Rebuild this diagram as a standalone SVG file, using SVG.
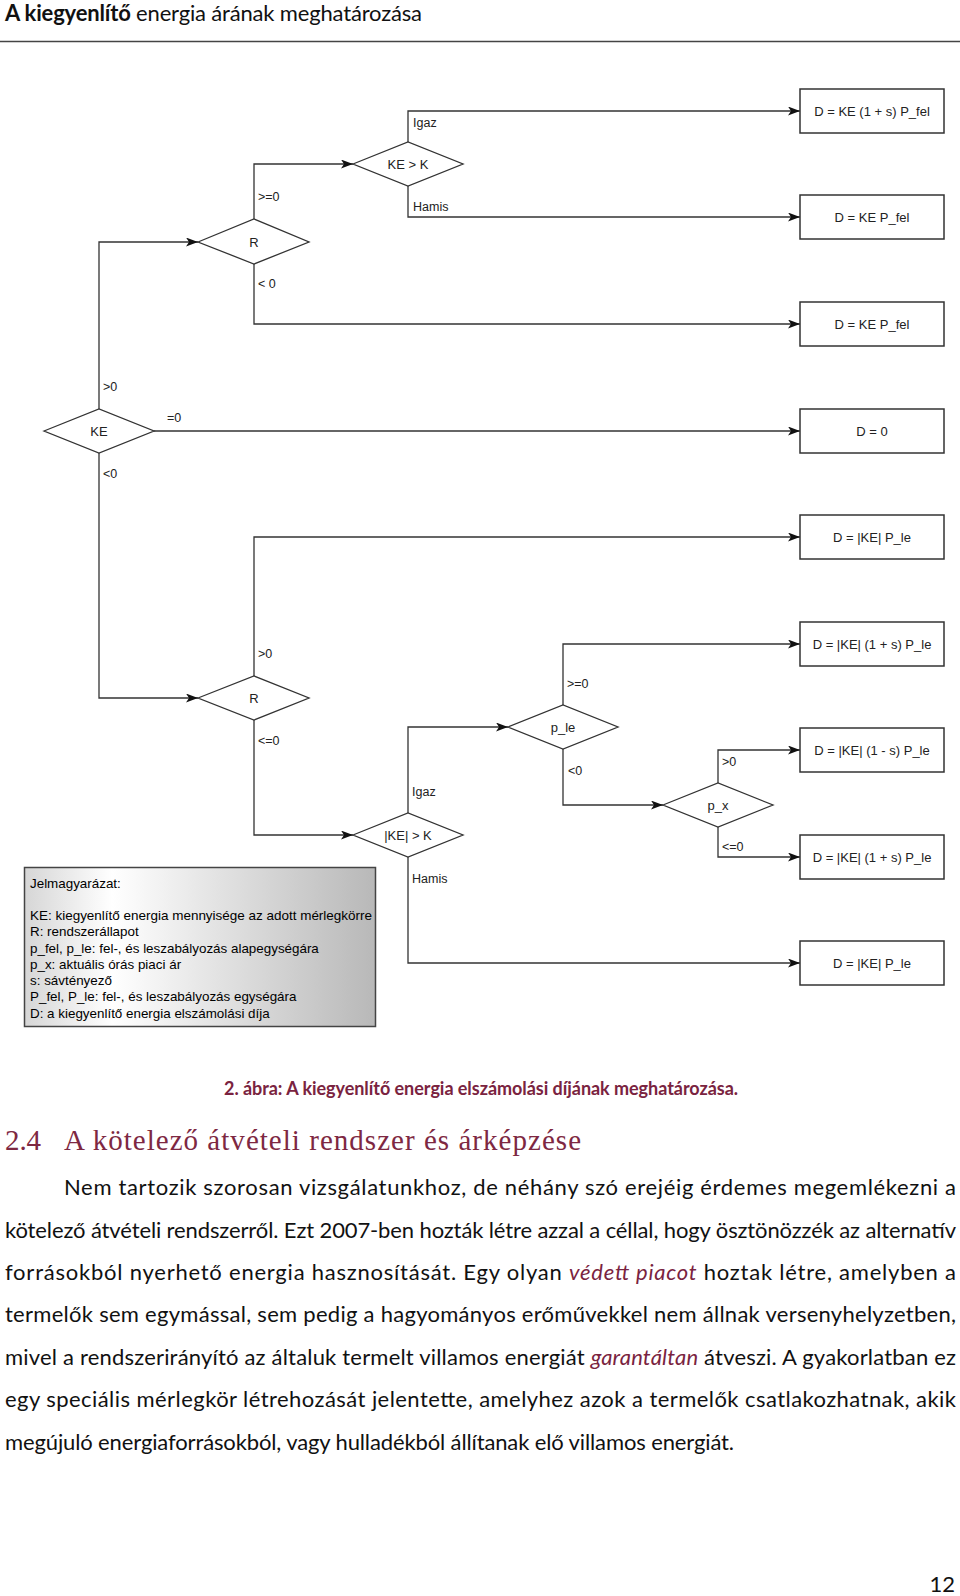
<svg xmlns="http://www.w3.org/2000/svg" width="960" height="1596" viewBox="0 0 960 1596">
<style>
.ln{fill:none;stroke:#333;stroke-width:1.3}
.dm{fill:#fff;stroke:#333;stroke-width:1.3}
.bx{fill:#fff;stroke:#333;stroke-width:1.5}
.t{font-family:"Liberation Sans",Arial,sans-serif;font-size:13px;fill:#222}
.c{text-anchor:middle;dominant-baseline:central}
.lb{font-family:"Liberation Sans",Arial,sans-serif;font-size:12.5px;fill:#222;dominant-baseline:central}
.lg{font-family:"Liberation Sans",Arial,sans-serif;font-size:13.4px;fill:#000}
.body{font-family:Lato,"Open Sans",sans-serif;font-size:22px;fill:#111}
.red{fill:#7a2340}
</style>
<defs>
<marker id="ar" viewBox="0 0 12 9" refX="12" refY="4.5" markerWidth="12" markerHeight="9" markerUnits="userSpaceOnUse" orient="auto">
<path d="M0,0 L12,4.5 L0,9 L3,4.5 Z" fill="#111"/>
</marker>
<linearGradient id="lgg" x1="0" y1="0" x2="1" y2="0">
<stop offset="0" stop-color="#d6d6d6"/>
<stop offset="0.25" stop-color="#ffffff"/>
<stop offset="1" stop-color="#b8b8b8"/>
</linearGradient>
</defs>

<g id="header">
<text x="5" y="21" style="font-family:Lato,'Open Sans',sans-serif;font-size:22px;fill:#111" textLength="417" lengthAdjust="spacing"><tspan font-weight="bold">A kiegyenlítő</tspan> energia árának meghatározása</text>
<line x1="0" y1="41.5" x2="960" y2="41.5" stroke="#444" stroke-width="1.6"/>
</g>

<g id="connectors">
<path class="ln" d="M99,409 V242 H198" marker-end="url(#ar)"/>
<path class="ln" d="M154,431 H800" marker-end="url(#ar)"/>
<path class="ln" d="M99,453 V698 H198" marker-end="url(#ar)"/>
<path class="ln" d="M254,219 V164 H353" marker-end="url(#ar)"/>
<path class="ln" d="M254,264 V324 H800" marker-end="url(#ar)"/>
<path class="ln" d="M408,142 V111 H800" marker-end="url(#ar)"/>
<path class="ln" d="M408,186 V217 H800" marker-end="url(#ar)"/>
<path class="ln" d="M254,676 V537 H800" marker-end="url(#ar)"/>
<path class="ln" d="M254,720 V835 H353" marker-end="url(#ar)"/>
<path class="ln" d="M408,813 V727 H508" marker-end="url(#ar)"/>
<path class="ln" d="M408,857 V963 H800" marker-end="url(#ar)"/>
<path class="ln" d="M563,705 V644 H800" marker-end="url(#ar)"/>
<path class="ln" d="M563,749 V805 H663" marker-end="url(#ar)"/>
<path class="ln" d="M718,783 V750 H800" marker-end="url(#ar)"/>
<path class="ln" d="M718,827 V857 H800" marker-end="url(#ar)"/>
<text class="lb" x="413" y="123">Igaz</text>
<text class="lb" x="413" y="207">Hamis</text>
<text class="lb" x="258" y="197">&gt;=0</text>
<text class="lb" x="258" y="284">&lt; 0</text>
<text class="lb" x="103" y="387">&gt;0</text>
<text class="lb" x="167" y="418">=0</text>
<text class="lb" x="103" y="474">&lt;0</text>
<text class="lb" x="258" y="654">&gt;0</text>
<text class="lb" x="258" y="741">&lt;=0</text>
<text class="lb" x="567" y="684">&gt;=0</text>
<text class="lb" x="568" y="771">&lt;0</text>
<text class="lb" x="412" y="792">Igaz</text>
<text class="lb" x="412" y="879">Hamis</text>
<text class="lb" x="722" y="762">&gt;0</text>
<text class="lb" x="722" y="847">&lt;=0</text>
</g>

<g id="d-ke"><polygon class="dm" points="44,431 99,409 154,431 99,453"/><text class="t c" x="99" y="431">KE</text></g>
<g id="d-r1"><polygon class="dm" points="198,242 254,219 309,242 254,264"/><text class="t c" x="254" y="242">R</text></g>
<g id="d-kek"><polygon class="dm" points="353,164 408,142 463,164 408,186"/><text class="t c" x="408" y="164">KE &gt; K</text></g>
<g id="d-r2"><polygon class="dm" points="198,698 254,676 309,698 254,720"/><text class="t c" x="254" y="698">R</text></g>
<g id="d-abskek"><polygon class="dm" points="353,835 408,813 463,835 408,857"/><text class="t c" x="408" y="835">|KE| &gt; K</text></g>
<g id="d-ple"><polygon class="dm" points="508,727 563,705 618,727 563,749"/><text class="t c" x="563" y="727">p_le</text></g>
<g id="d-px"><polygon class="dm" points="663,805 718,783 773,805 718,827"/><text class="t c" x="718" y="805">p_x</text></g>

<g id="b1"><rect class="bx" x="800" y="89" width="144" height="44"/><text class="t c" x="872" y="111">D = KE (1 + s) P_fel</text></g>
<g id="b2"><rect class="bx" x="800" y="195" width="144" height="44"/><text class="t c" x="872" y="217">D = KE P_fel</text></g>
<g id="b3"><rect class="bx" x="800" y="302" width="144" height="44"/><text class="t c" x="872" y="324">D = KE P_fel</text></g>
<g id="b4"><rect class="bx" x="800" y="409" width="144" height="44"/><text class="t c" x="872" y="431">D = 0</text></g>
<g id="b5"><rect class="bx" x="800" y="515" width="144" height="44"/><text class="t c" x="872" y="537">D = |KE| P_le</text></g>
<g id="b6"><rect class="bx" x="800" y="622" width="144" height="44"/><text class="t c" x="872" y="644">D = |KE| (1 + s) P_le</text></g>
<g id="b7"><rect class="bx" x="800" y="728" width="144" height="44"/><text class="t c" x="872" y="750">D = |KE| (1 - s) P_le</text></g>
<g id="b8"><rect class="bx" x="800" y="835" width="144" height="44"/><text class="t c" x="872" y="857">D = |KE| (1 + s) P_le</text></g>
<g id="b9"><rect class="bx" x="800" y="941" width="144" height="44"/><text class="t c" x="872" y="963">D = |KE| P_le</text></g>

<g id="legend">
<rect x="24.5" y="867.5" width="351" height="159" fill="url(#lgg)" stroke="#444" stroke-width="1.5"/>
<text class="lg" x="30" y="887.5">Jelmagyarázat:</text>
<text class="lg" x="30" y="920" textLength="342" lengthAdjust="spacingAndGlyphs">KE: kiegyenlítő energia mennyisége az adott mérlegkörre</text>
<text class="lg" x="30" y="936">R: rendszerállapot</text>
<text class="lg" x="30" y="952.5">p_fel, p_le: fel-, és leszabályozás alapegységára</text>
<text class="lg" x="30" y="968.5">p_x: aktuális órás piaci ár</text>
<text class="lg" x="30" y="985">s: sávtényező</text>
<text class="lg" x="30" y="1001">P_fel, P_le: fel-, és leszabályozás egységára</text>
<text class="lg" x="30" y="1017.5">D: a kiegyenlítő energia elszámolási díja</text>
</g>

<g id="caption">
<text x="224" y="1095" style="font-family:Lato,'Open Sans',sans-serif;font-size:18px;font-weight:bold;fill:#7a2340" textLength="514" lengthAdjust="spacing">2. ábra: A kiegyenlítő energia elszámolási díjának meghatározása.</text>
</g>

<g id="heading" style="font-family:'Liberation Serif','Times New Roman',serif;font-size:29px;fill:#7e2842">
<text x="5" y="1150" textLength="36" lengthAdjust="spacing">2.4</text>
<text x="64" y="1150" textLength="517" lengthAdjust="spacing">A kötelező átvételi rendszer és árképzése</text>
</g>

<g id="body" class="body">
<text class="body" x="64" y="1195" textLength="892" lengthAdjust="spacing">Nem tartozik szorosan vizsgálatunkhoz, de néhány szó erejéig érdemes megemlékezni a</text>
<text class="body" x="5" y="1237.5" textLength="951" lengthAdjust="spacing">kötelező átvételi rendszerről. Ezt 2007-ben hozták létre azzal a céllal, hogy ösztönözzék az alternatív</text>
<text class="body" x="5" y="1280" textLength="951" lengthAdjust="spacing">forrásokból nyerhető energia hasznosítását. Egy olyan <tspan class="red" font-style="italic">védett piacot</tspan> hoztak létre, amelyben a</text>
<text class="body" x="5" y="1322" textLength="951" lengthAdjust="spacing">termelők sem egymással, sem pedig a hagyományos erőművekkel nem állnak versenyhelyzetben,</text>
<text class="body" x="5" y="1364.5" textLength="951" lengthAdjust="spacing">mivel a rendszerirányító az általuk termelt villamos energiát <tspan class="red" font-style="italic">garantáltan</tspan> átveszi. A gyakorlatban ez</text>
<text class="body" x="5" y="1407" textLength="951" lengthAdjust="spacing">egy speciális mérlegkör létrehozását jelentette, amelyhez azok a termelők csatlakozhatnak, akik</text>
<text class="body" x="5" y="1449.5" textLength="729" lengthAdjust="spacing">megújuló energiaforrásokból, vagy hulladékból állítanak elő villamos energiát.</text>
</g>

<g id="page-number">
<text x="955" y="1592" text-anchor="end" style="font-family:Lato,'Open Sans',sans-serif;font-size:22px;fill:#111">12</text>
</g>
</svg>
